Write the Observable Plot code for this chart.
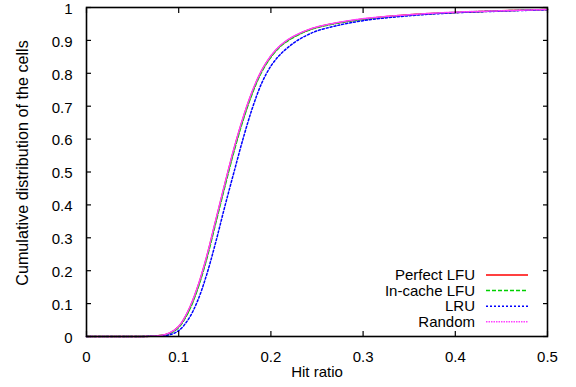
<!DOCTYPE html>
<html>
<head>
<meta charset="utf-8">
<script src="https://cdn.jsdelivr.net/npm/d3@7"></script>
<script src="https://cdn.jsdelivr.net/npm/@observablehq/plot@0.6"></script>
<style>
  html, body { margin: 0; padding: 0; background: #fff; }
  #chart svg { display: block; }
</style>
</head>
<body>
<div id="chart"></div>
<script>
const hitRatio   = [0, 0.05, 0.07, 0.08, 0.09, 0.10, 0.11, 0.12, 0.13, 0.14, 0.15, 0.16, 0.17, 0.18, 0.19, 0.20, 0.21, 0.22, 0.23, 0.24, 0.25, 0.27, 0.30, 0.35, 0.40, 0.45, 0.50];
const perfectLFU = [0, 0, 0.001, 0.003, 0.010, 0.030, 0.075, 0.145, 0.238, 0.350, 0.462, 0.570, 0.665, 0.745, 0.808, 0.852, 0.883, 0.904, 0.919, 0.931, 0.940, 0.952, 0.965, 0.978, 0.985, 0.990, 0.994];
const inCacheLFU = [0, 0, 0.001, 0.003, 0.009, 0.028, 0.071, 0.140, 0.232, 0.343, 0.455, 0.563, 0.659, 0.740, 0.804, 0.849, 0.881, 0.902, 0.917, 0.930, 0.939, 0.951, 0.964, 0.977, 0.985, 0.990, 0.994];
const lru        = [0, 0, 0.0005, 0.001, 0.005, 0.018, 0.050, 0.105, 0.185, 0.285, 0.395, 0.500, 0.603, 0.695, 0.770, 0.822, 0.857, 0.882, 0.902, 0.917, 0.929, 0.944, 0.960, 0.975, 0.984, 0.989, 0.993];
const randomPol  = [0, 0, 0.001, 0.003, 0.011, 0.031, 0.077, 0.147, 0.240, 0.352, 0.464, 0.572, 0.667, 0.747, 0.809, 0.853, 0.884, 0.905, 0.920, 0.932, 0.941, 0.953, 0.966, 0.978, 0.986, 0.990, 0.994];

const seriesNames  = ["Perfect LFU", "In-cache LFU", "LRU", "Random"];
const seriesValues = [perfectLFU, inCacheLFU, lru, randomPol];
const seriesColors = ["#ff0000", "#00d000", "#0000ff", "#ff40ff"];
const seriesDash   = [null, "4,2", "2,2", "1.5,1"];

const xTicks = [0, 0.1, 0.2, 0.3, 0.4, 0.5];
const yTicks = [0, 0.1, 0.2, 0.3, 0.4, 0.5, 0.6, 0.7, 0.8, 0.9, 1];
const xLabel = "Hit ratio";
const yLabel = "Cumulative distribution of the cells";

const fmt = d => String(+d.toFixed(2));
const blank = () => "";

const lineMarks = seriesNames.map((name, i) => {
  const rows = hitRatio.map((x, j) => ({x, y: seriesValues[i][j]}));
  return Plot.line(rows, {
    x: "x", y: "y", curve: "catmull-rom",
    stroke: seriesColors[i], strokeWidth: 1.5,
    strokeDasharray: seriesDash[i] || undefined
  });
});

const chart = Plot.plot({
  width: 576,
  height: 387,
  marginLeft: 86,
  marginRight: 29,
  marginTop: 7,
  marginBottom: 51,
  style: {fontFamily: "'Liberation Sans', Arial, sans-serif", fontSize: "15px", color: "#000", background: "#fff", overflow: "visible"},
  x: {domain: [0, 0.5]},
  y: {domain: [0, 1]},
  marks: [
    ...lineMarks,
    Plot.axisX(xTicks, {anchor: "bottom", tickSize: -5, tickFormat: blank, label: null, strokeWidth: 1.2}),
    Plot.axisX(xTicks, {anchor: "top", tickSize: -5, tickFormat: blank, label: null, strokeWidth: 1.2}),
    Plot.axisY(yTicks, {anchor: "left", tickSize: -5, tickFormat: blank, label: null, strokeWidth: 1.2}),
    Plot.axisY(yTicks, {anchor: "right", tickSize: -5, tickFormat: blank, label: null, strokeWidth: 1.2}),
    Plot.axisX(xTicks, {anchor: "bottom", tickSize: 0, tickPadding: 15, tickFormat: fmt, label: null, fontSize: 15}),
    Plot.axisY(yTicks, {anchor: "left", tickSize: 0, tickPadding: 14, dy: 1.5, tickFormat: fmt, label: null, fontSize: 15}),
    Plot.frame({stroke: "#000", strokeWidth: 1.6}),
    Plot.text([xLabel], {frameAnchor: "bottom", dy: 40, fontSize: 15}),
    Plot.text([yLabel], {frameAnchor: "left", textAnchor: "middle", dx: -64, dy: -9, rotate: -90, fontSize: 16.2})
  ]
});

document.getElementById("chart").appendChild(chart);

// legend (gnuplot-style key inside the plot, bottom right)
const svg = d3.select(chart);
const key = svg.append("g").attr("font-family", "'Liberation Sans', Arial, sans-serif").attr("font-size", 15);
seriesNames.forEach((name, i) => {
  const y = 275 + i * 15.6;
  key.append("text").attr("x", 475).attr("y", y).attr("dy", "0.35em")
    .attr("text-anchor", "end").attr("fill", "#000").text(name);
  key.append("line").attr("x1", 486).attr("x2", 528).attr("y1", y).attr("y2", y)
    .attr("stroke", seriesColors[i]).attr("stroke-width", 1.5)
    .attr("stroke-dasharray", seriesDash[i]);
});
</script>
</body>
</html>
